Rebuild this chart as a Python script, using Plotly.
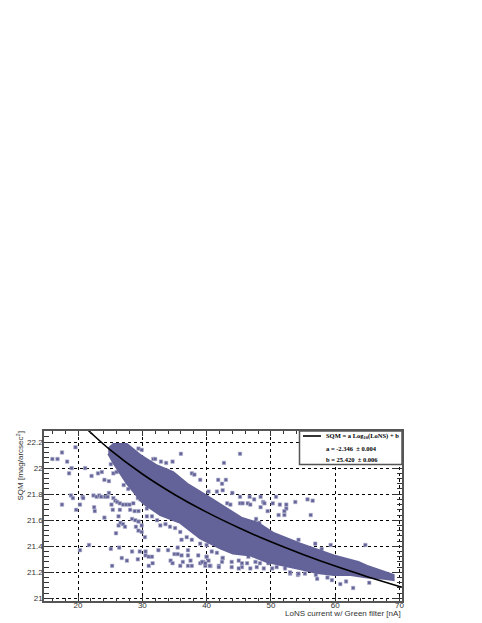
import plotly.graph_objects as go

band_top_x = [24.7, 25.5, 27.6, 29.7, 32.3, 34.8, 37.0, 40.0, 45.4, 48.0, 50.5, 54.6, 59.8, 63.6, 65.0, 69.1]
band_top_y = [22.15, 22.185, 22.185, 22.10, 22.02, 21.97, 21.88, 21.79, 21.62, 21.58, 21.50, 21.42, 21.33, 21.28, 21.25, 21.18]
band_low_x = [24.7, 25.5, 27.6, 30.1, 32.8, 35.9, 39.0, 42.1, 44.1, 46.8, 49.4, 51.9, 55.0, 57.2, 59.8, 62.4, 65.0, 67.6, 69.1]
band_low_y = [22.11, 22.04, 21.88, 21.73, 21.64, 21.58, 21.46, 21.385, 21.345, 21.33, 21.28, 21.255, 21.22, 21.195, 21.18, 21.18, 21.16, 21.15, 21.14]

# scattered points outside the band
out_x = [16.0, 16.8, 17.5, 19.6, 18.3, 18.6, 19.0, 21.1, 22.1, 23.1, 23.7, 24.1, 24.8, 25.1, 25.5, 26.0, 26.5, 27.1, 27.8,
         17.5, 18.9, 19.2, 19.7, 20.3, 20.7, 20.8, 22.4, 22.9, 23.3, 23.6, 22.5, 22.6, 24.2, 24.6, 24.8,
         25.5, 25.8, 26.1, 26.5, 27.0, 27.5, 25.2, 25.4, 26.5, 26.3, 24.1, 26.3, 26.6, 27.0, 27.3, 25.9,
         28.0, 28.6, 29.3, 29.7, 30.4, 31.0, 28.4, 28.9, 29.4, 29.9, 30.7, 31.5, 32.3, 32.8, 33.6, 34.3, 35.1, 35.9, 36.9,
         28.1, 28.8, 29.4, 30.7, 29.0, 29.4, 29.9, 30.4,
         21.7, 20.3, 25.1, 26.4, 26.8, 27.6, 25.3, 28.4, 29.6, 29.3, 30.5, 30.5, 31.0, 31.5, 31.0, 31.6, 32.5, 34.0, 34.4, 34.7,
         35.0, 35.5, 35.5, 37.1, 37.1, 36.1, 35.9, 36.3, 37.1, 37.7, 37.5, 38.7, 39.0, 39.5, 39.8, 40.6, 40.0, 41.9, 42.5,
         36.1, 37.7, 39.0, 40.0,
         29.4, 29.9, 31.7, 32.0, 32.9, 33.7, 34.7, 33.8, 36.0, 37.7, 38.1, 39.0, 41.8, 42.4, 43.0, 42.7, 45.2,
         40.3, 41.6, 42.5, 44.0, 43.2, 43.7, 45.2, 45.2,
         48.4, 50.8, 50.3, 51.4, 53.8, 55.7, 56.5, 56.2, 52.4, 52.4, 52.1, 51.2, 52.1,
         47.4, 46.7, 46.4, 45.6, 46.8, 48.8, 49.0, 48.4, 49.5, 47.7, 48.2,
         54.3, 56.9, 57.9, 59.3, 64.7,
         53.0, 54.2, 55.3, 57.0, 57.2, 58.8, 59.5, 60.8, 61.7, 62.8, 65.3,
         39.3, 39.8, 40.3, 40.0, 40.5, 40.8, 41.6, 42.5, 42.4, 41.9, 43.9, 43.9, 45.0, 45.5, 45.5, 45.0,
         46.5, 47.3, 47.6, 48.3, 48.9, 50.2, 51.5, 53.0, 54.3, 47.8, 46.8, 49.6, 46.3, 50.9, 52.2]
out_y = [22.07, 22.07, 22.12, 22.16, 22.05, 21.96, 22.00, 22.00, 21.94, 21.96, 21.97, 21.91, 21.90, 22.03, 21.96, 21.97, 21.98, 21.87, 21.84,
         21.72, 21.79, 21.77, 21.68, 21.72, 21.78, 21.77, 21.79, 21.78, 21.79, 21.78, 21.70, 21.67, 21.78, 21.78, 21.81,
         21.77, 21.75, 21.74, 21.73, 21.72, 21.72, 21.72, 21.68, 21.68, 21.63, 21.62, 21.56, 21.58, 21.57, 21.55, 21.50,
         21.72, 21.73, 21.77, 21.76, 21.78, 21.75, 21.61, 21.60, 21.59, 21.56, 21.63, 21.63, 21.60, 21.56, 21.57, 21.55, 21.54, 21.51, 21.47,
         21.68, 21.67, 21.67, 21.69, 21.55, 21.52, 21.51, 21.47,
         21.41, 21.37, 21.38, 21.39, 21.31, 21.29, 21.25, 21.36, 21.36, 21.30, 21.36, 21.33, 21.32, 21.32, 21.25, 21.27, 21.37, 21.37, 21.29, 21.27,
         21.34, 21.34, 21.39, 21.37, 21.33, 21.33, 21.25, 21.28, 21.25, 21.25, 21.29, 21.33, 21.27, 21.28, 21.25, 21.25, 21.32, 21.25, 21.31,
         21.45, 21.45, 21.42, 21.41,
         22.15, 22.14, 22.07, 22.07, 22.05, 22.04, 22.05, 21.98, 22.11, 21.96, 21.95, 21.91, 21.91, 21.88, 21.91, 22.04, 22.11,
         21.82, 21.82, 21.83, 21.81, 21.73, 21.72, 21.78, 21.73,
         21.78, 21.78, 21.73, 21.72, 21.74, 21.76, 21.75, 21.64, 21.72, 21.69, 21.64, 21.64, 21.67,
         21.76, 21.78, 21.73, 21.73, 21.72, 21.74, 21.73, 21.70, 21.67, 21.61, 21.58,
         21.45, 21.42, 21.38, 21.41, 21.41,
         21.19, 21.18, 21.19, 21.18, 21.15, 21.16, 21.14, 21.11, 21.13, 21.08, 21.12,
         21.28, 21.27, 21.29, 21.32, 21.25, 21.36, 21.35, 21.31, 21.28, 21.24, 21.28, 21.24, 21.29, 21.27, 21.24, 21.23,
         21.32, 21.33, 21.28, 21.27, 21.23, 21.23, 21.29, 21.20, 21.19, 21.24, 21.23, 21.27, 21.27, 21.24, 21.23]

# fitted curve, SQM = a Log10(LoNS) + b
fit_x = [21.5, 22, 25, 30, 35, 40, 45, 50, 55, 60, 65, 70, 71]
fit_y = [22.294, 22.271, 22.140, 21.955, 21.798, 21.662, 21.542, 21.434, 21.337, 21.248, 21.167, 21.091, 21.077]

x_ticks = [20, 30, 40, 50, 60, 70]
y_ticks = [21, 21.2, 21.4, 21.6, 21.8, 22, 22.2]
y_tick_labels = ["21", "21.2", "21.4", "21.6", "21.8", "22", "22.2"]

legend_rows = ["SQM = a Log<sub>10</sub>(LoNS) + b", "a = -2.346  ± 0.004", "b = 25.420  ± 0.006"]

PURPLE = "#636399"
FRAME = "#555555"
SANS = "Liberation Sans"
SERIF = "Liberation Serif"

# the page has an 8px body margin, so the figure starts 8px in from the window corner
PAGE = 8
W, H = 482 - PAGE, 623 - PAGE
# plot frame in window pixels
L, R, T, B = 44, 402, 431, 601


def px(x):
    return (x - L) / (R - L)


def py(y):
    return (B - y) / (B - T)


fig = go.Figure()

fig.add_trace(go.Scatter(
    x=out_x, y=out_y,
    mode="markers",
    marker=dict(symbol="square", size=3.5, color=PURPLE, line=dict(width=0.6, color="#b4b4cf")),
))
fig.add_trace(go.Scatter(
    x=band_top_x + band_low_x[::-1],
    y=band_top_y + band_low_y[::-1],
    mode="lines",
    fill="toself",
    fillcolor=PURPLE,
    line=dict(color=PURPLE, width=2),
    hoverinfo="skip",
))
fig.add_trace(go.Scatter(
    x=fit_x, y=fit_y,
    mode="lines",
    line=dict(color="black", width=1.6, shape="spline"),
))

# automargin off: the default template would otherwise grow the margins and squash the frame
fig.update_xaxes(
    range=[14.7, 70.4],
    automargin=False,
    tickvals=x_ticks,
    ticks="inside", ticklen=5, tickcolor="#333333",
    ticklabelstandoff=-4,
    minor=dict(dtick=2, ticks="inside", ticklen=3, tickcolor="#333333", showgrid=False),
    showgrid=True, gridcolor="black", griddash="dot", gridwidth=1,
    showline=True, linecolor=FRAME, linewidth=1.5, mirror="allticks",
    zeroline=False,
    tickfont=dict(family=SANS, size=8, color="#333333"),
)
fig.update_yaxes(
    range=[20.98, 22.285],
    automargin=False,
    tickvals=y_ticks, ticktext=y_tick_labels,
    ticks="inside", ticklen=10, tickcolor="#333333",
    ticklabelstandoff=-2,
    minor=dict(dtick=0.04, ticks="inside", ticklen=5, tickcolor="#333333", showgrid=False),
    showgrid=True, gridcolor="black", griddash="dot", gridwidth=1,
    showline=True, linecolor=FRAME, linewidth=1.5, mirror="allticks",
    zeroline=False,
    tickfont=dict(family=SANS, size=8, color="#333333"),
)

annotations = [
    dict(text="LoNS current w/ Green filter [nA]", x=1, y=py(613), xanchor="right", yanchor="middle",
         font=dict(family=SANS, size=8, color="#333333")),
    dict(text="SQM [mag/arcsec<sup>2</sup>]", x=px(19), y=1, xanchor="center", yanchor="top", textangle=-90,
         font=dict(family=SANS, size=8, color="#333333")),
]
for row, row_y in zip(legend_rows, [436, 448, 459.5]):
    annotations.append(dict(text=row, x=px(325), y=py(row_y), xanchor="left", yanchor="middle",
                            font=dict(family=SERIF, size=6.5, color="black", weight="bold")))
for a in annotations:
    a.update(xref="paper", yref="paper", showarrow=False, borderpad=0)

fig.update_layout(
    width=W, height=H,
    margin=dict(l=L - PAGE, r=W - (R - PAGE), t=T - PAGE, b=H - (B - PAGE)),
    paper_bgcolor="white", plot_bgcolor="white",
    showlegend=False,
    annotations=annotations,
    shapes=[
        dict(type="rect", xref="paper", yref="paper", x0=px(299.5), x1=1, y0=py(464.5), y1=1,
             fillcolor="white", line=dict(color=FRAME, width=1.5), layer="above"),
        dict(type="line", xref="paper", yref="paper", x0=px(303), x1=px(321), y0=py(436), y1=py(436),
             line=dict(color="black", width=1.6), layer="above"),
    ],
)

fig.write_html("out.html")
